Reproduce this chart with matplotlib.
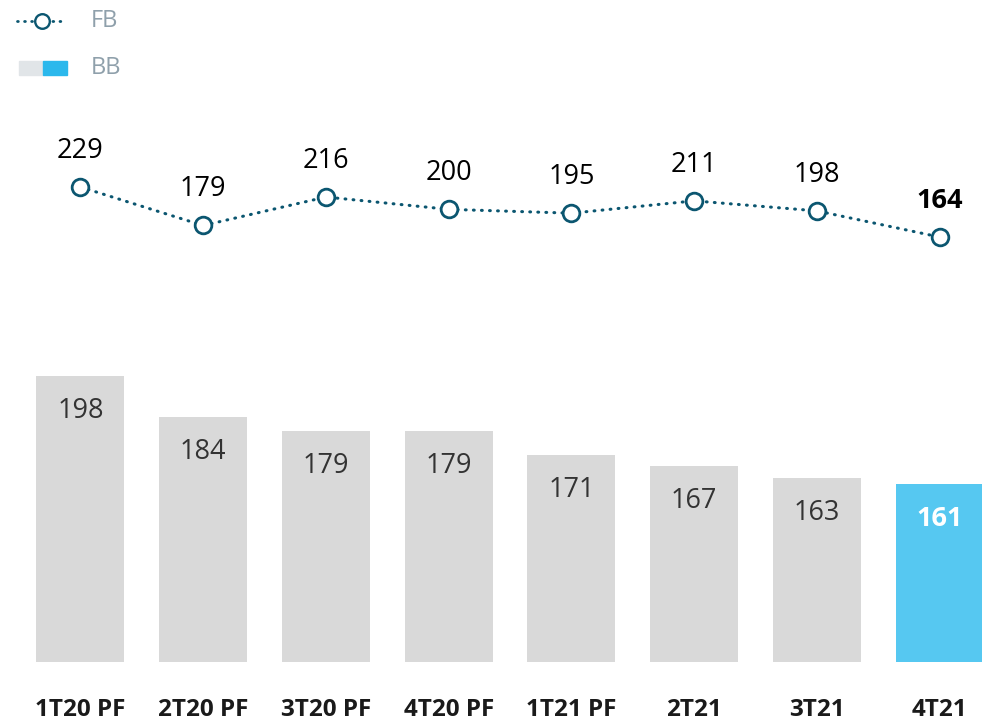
import matplotlib.pyplot as plt
from matplotlib.lines import Line2D
from matplotlib.patches import Rectangle

plt.rcParams['font.family'] = ['Open Sans', 'DejaVu Sans']
plt.rcParams['lines.scale_dashes'] = False

quarters = ["1T20 PF", "2T20 PF", "3T20 PF", "4T20 PF", "1T21 PF", "2T21", "3T21", "4T21"]
fb = [229, 179, 216, 200, 195, 211, 198, 164]
bb = [198, 184, 179, 179, 171, 167, 163, 161]

line_color = "#0b5670"
bar_grey = "#d9d9d9"
bar_blue = "#56c8f1"

W, H = 982, 721
fig = plt.figure(figsize=(W / 100, H / 100), dpi=100)

x = list(range(len(quarters)))
xlim = (-0.655, 7.345)

# bar panel: pixel rows 340..662, baseline at 100
ax_bar = fig.add_axes([0, (H - 662) / H, 1, (662 - 340) / H])
colors = [bar_grey] * (len(bb) - 1) + [bar_blue]
ax_bar.bar(x, [v - 100 for v in bb], bottom=100, width=0.718, color=colors)
ax_bar.set_xlim(*xlim)
ax_bar.set_ylim(100, 100 + 322 / 2.92)
for i, v in enumerate(bb):
    last = i == len(bb) - 1
    ax_bar.annotate(str(v), (i, v), xytext=(0, -35 * 0.72), textcoords="offset points",
                    ha="center", va="center", fontsize=19.5,
                    color="white" if last else "#333333",
                    fontweight="bold" if last else "normal")
ax_bar.set_xticks(x)
ax_bar.set_xticklabels(quarters, fontsize=17.5, fontweight="bold", color="#1a1a1a")
ax_bar.tick_params(axis="x", length=0, pad=26)
ax_bar.set_yticks([])
for s in ax_bar.spines.values():
    s.set_visible(False)
ax_bar.patch.set_alpha(0)

# line panel: pixel rows 120..260
ax_line = fig.add_axes([0, (H - 260) / H, 1, 140 / H])
ax_line.plot(x, fb, color=line_color, lw=2.2, linestyle=(0, (0.6, 5.2)),
             dash_capstyle="round", marker="o", markersize=12,
             markerfacecolor="white", markeredgecolor=line_color, markeredgewidth=2.0)
ax_line.set_xlim(*xlim)
ax_line.set_ylim(229 - 73 / 0.77, 229 + 67 / 0.77)
for i, v in enumerate(fb):
    last = i == len(fb) - 1
    ax_line.annotate(str(v), (i, v), xytext=(0, 36 * 0.72), textcoords="offset points",
                     ha="center", va="center", fontsize=19.5, color="black",
                     fontweight="bold" if last else "normal")
ax_line.axis("off")

# legend
fig.add_artist(Line2D([17 / W, 66 / W], [1 - 21 / H] * 2, color=line_color, lw=2,
                      linestyle=(0, (0.6, 4.5)), dash_capstyle="round"))
fig.add_artist(Line2D([42 / W], [1 - 21 / H], marker="o", markersize=10.5,
                      markerfacecolor="white", markeredgecolor=line_color, markeredgewidth=1.7))
fig.text(91 / W, 1 - 21 / H, "FB", fontsize=17, color="#8fa0ab", va="center")
fig.add_artist(Rectangle((19 / W, 1 - 75 / H), 24 / W, 14 / H, color="#e1e5e8"))
fig.add_artist(Rectangle((43 / W, 1 - 75 / H), 24 / W, 14 / H, color="#2bb8ec"))
fig.text(91 / W, 1 - 68 / H, "BB", fontsize=17, color="#8fa0ab", va="center")

fig.savefig("out.png", dpi=100)
